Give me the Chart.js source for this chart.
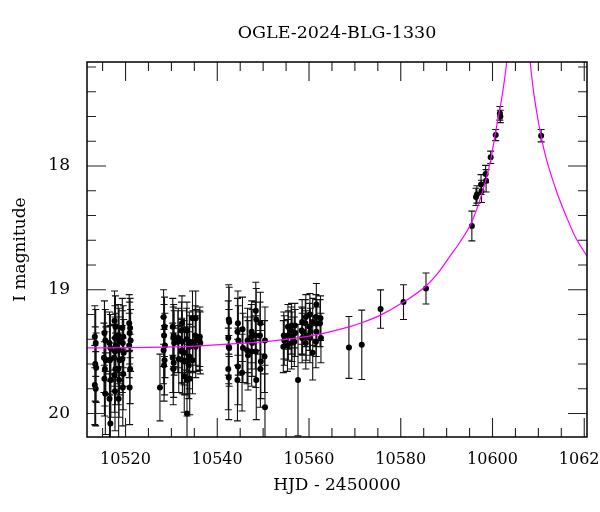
<!DOCTYPE html>
<html>
<head>
<meta charset="utf-8">
<title>OGLE-2024-BLG-1330</title>
<script src="https://cdn.jsdelivr.net/npm/chart.js@4.4.1/dist/chart.umd.min.js"></script>
<style>
  html, body { margin: 0; background: #fff; }
  #wrap { width: 600px; height: 512px; }
</style>
</head>
<body>
<div id="wrap"><canvas id="lc" width="600" height="512"></canvas></div>
<script>
"use strict";
const FONT = "'DejaVu Serif', 'Liberation Serif', serif";
const TITLE = "OGLE-2024-BLG-1330";

// photometry: HJD-2450000, I mag, 1-sigma error
const hjd = [
  10513.3, 10513.5, 10513.4, 10513.6, 10513.3, 10513.5,
  10515.4, 10515.6, 10515.3, 10515.7, 10515.5, 10515.4, 10515.6,
  10516.5, 10516.7, 10516.6, 10516.8, 10516.5, 10516.7,
  10517.6, 10517.8, 10517.7, 10517.9, 10517.7, 10517.5, 10517.8, 10517.6, 10517.7,
  10518.4, 10518.6, 10518.5, 10518.7, 10518.4, 10518.6, 10518.5,
  10519.3, 10519.5, 10519.4, 10519.6, 10519.3, 10519.5, 10519.4,
  10520.8, 10521.0, 10520.9, 10521.1, 10520.8, 10521.0, 10520.9,
  10527.5,
  10528.3, 10528.5, 10528.4, 10528.6, 10528.3, 10528.5, 10528.4,
  10530.3, 10530.5, 10530.4, 10530.6, 10530.3, 10530.5, 10530.4,
  10531.5, 10531.4, 10531.6,
  10532.3, 10532.2, 10532.4, 10532.3, 10532.2, 10532.4,
  10532.8, 10532.9, 10532.8,
  10533.4, 10533.3, 10533.5, 10533.4, 10533.4,
  10533.9, 10534.0, 10533.9, 10533.8, 10534.0,
  10534.6, 10534.7, 10534.6,
  10535.3, 10535.2, 10535.4, 10535.3,
  10536.2, 10536.1, 10536.3,
  10542.5, 10542.6, 10542.4, 10542.5, 10542.6, 10542.4, 10542.5,
  10544.5, 10544.4, 10544.6, 10544.5, 10544.4,
  10545.5, 10545.6, 10545.4,
  10546.6, 10546.5, 10546.7,
  10547.5, 10547.4, 10547.6, 10547.5,
  10548.4, 10548.5, 10548.3, 10548.4, 10548.5,
  10549.4, 10549.3, 10549.5, 10549.4,
  10550.4, 10550.3, 10550.4,
  10554.5, 10554.6, 10554.4,
  10555.4, 10555.5, 10555.3,
  10556.2, 10556.1, 10556.3, 10556.2,
  10556.9, 10557.0, 10556.8,
  10557.6,
  10558.5, 10558.4, 10558.6, 10558.5,
  10559.3, 10559.2, 10559.4, 10559.3,
  10560.2, 10560.1, 10560.3, 10560.2,
  10560.8, 10560.8,
  10561.6, 10561.5, 10561.7, 10561.6, 10561.5,
  10562.5, 10562.4, 10562.6,
  10568.7, 10571.5, 10575.6, 10580.6, 10585.5,
  10595.5, 10596.4, 10596.6, 10597.6, 10597.5, 10598.6, 10598.5,
  10599.6, 10600.7, 10601.6, 10601.7, 10610.6
];
const mag = [
  19.38, 19.43, 19.60, 19.63, 19.77, 19.80,
  19.35, 19.41, 19.55, 19.57, 19.64, 19.72, 19.84,
  19.43, 19.47, 19.57, 19.73, 19.88, 20.08,
  19.25, 19.30, 19.39, 19.45, 19.50, 19.55, 19.64, 19.69, 19.82,
  19.37, 19.41, 19.49, 19.57, 19.64, 19.73, 19.88,
  19.31, 19.38, 19.43, 19.51, 19.56, 19.68, 19.79,
  19.27, 19.31, 19.35, 19.41, 19.45, 19.64, 19.79,
  19.79,
  19.22, 19.30, 19.37, 19.45, 19.49, 19.57, 19.61,
  19.30, 19.37, 19.39, 19.43, 19.55, 19.59, 19.64,
  19.39, 19.42, 19.56,
  19.27, 19.33, 19.42, 19.49, 19.50, 19.57,
  19.51, 19.58, 19.70,
  19.33, 19.40, 19.57, 19.73, 20.00,
  19.42, 19.46, 19.54, 19.61, 19.72,
  19.23, 19.42, 19.57,
  19.23, 19.37, 19.41, 19.46,
  19.38, 19.41, 19.43,
  19.24, 19.26, 19.39, 19.46, 19.47, 19.64, 19.71,
  19.27, 19.34, 19.41, 19.62, 19.73,
  19.32, 19.47, 19.67,
  19.41, 19.49, 19.53,
  19.34, 19.38, 19.43, 19.50,
  19.17, 19.24, 19.37, 19.50, 19.73,
  19.27, 19.37, 19.58, 19.64,
  19.41, 19.54, 19.95,
  19.37, 19.41, 19.46,
  19.30, 19.37, 19.45,
  19.29, 19.33, 19.38, 19.43,
  19.29, 19.35, 19.42,
  19.73,
  19.26, 19.33, 19.34, 19.39,
  19.22, 19.27, 19.37, 19.43,
  19.20, 19.30, 19.34, 19.39,
  19.26, 19.51,
  19.12, 19.22, 19.27, 19.34, 19.42,
  19.23, 19.27, 19.39,
  19.466, 19.445, 19.156, 19.10, 18.99,
  18.485, 18.25, 18.23, 18.205, 18.15, 18.12, 18.065,
  17.93, 17.75, 17.575, 17.60, 17.755
];
const magErr = [
  0.25, 0.27, 0.30, 0.28, 0.32, 0.30,
  0.26, 0.25, 0.28, 0.27, 0.30, 0.30, 0.33,
  0.25, 0.27, 0.28, 0.30, 0.33, 0.35,
  0.24, 0.25, 0.26, 0.26, 0.28, 0.27, 0.29, 0.30, 0.32,
  0.25, 0.26, 0.27, 0.28, 0.29, 0.30, 0.32,
  0.24, 0.25, 0.26, 0.27, 0.27, 0.29, 0.31,
  0.23, 0.24, 0.25, 0.25, 0.26, 0.28, 0.30,
  0.27,
  0.22, 0.24, 0.25, 0.26, 0.27, 0.28, 0.29,
  0.23, 0.25, 0.25, 0.26, 0.28, 0.28, 0.29,
  0.24, 0.25, 0.27,
  0.22, 0.23, 0.25, 0.26, 0.26, 0.27,
  0.26, 0.27, 0.29,
  0.23, 0.25, 0.27, 0.29, 0.33,
  0.24, 0.25, 0.26, 0.27, 0.29,
  0.22, 0.25, 0.27,
  0.22, 0.24, 0.25, 0.25,
  0.24, 0.24, 0.25,
  0.28, 0.28, 0.30, 0.30, 0.31, 0.33, 0.34,
  0.26, 0.27, 0.28, 0.31, 0.33,
  0.26, 0.28, 0.31,
  0.26, 0.27, 0.28,
  0.25, 0.26, 0.27, 0.28,
  0.23, 0.25, 0.27, 0.29, 0.32,
  0.25, 0.27, 0.30, 0.31,
  0.27, 0.29, 0.34,
  0.19, 0.20, 0.21,
  0.18, 0.20, 0.21,
  0.18, 0.19, 0.20, 0.21,
  0.18, 0.19, 0.20,
  0.45,
  0.18, 0.19, 0.19, 0.20,
  0.18, 0.19, 0.20, 0.21,
  0.17, 0.19, 0.19, 0.20,
  0.19, 0.22,
  0.17, 0.18, 0.19, 0.20, 0.21,
  0.18, 0.19, 0.20,
  0.25, 0.28, 0.155, 0.14, 0.125,
  0.12, 0.07, 0.07, 0.09, 0.08, 0.09, 0.07,
  0.05, 0.045, 0.055, 0.05, 0.05
];

// magenta model curve, traced point by point
const modelHjd = [
  10511.6, 10525, 10535, 10545, 10553.6, 10560, 10564.5, 10568.7, 10571.5, 10575.6,
  10580.6, 10585.5, 10588, 10590.7, 10593, 10595.5, 10597.2, 10598.5, 10599.6, 10600.9,
  10602.3, 10603.1, 10604, 10605.6, 10607.2, 10608.2, 10608.9, 10609.7, 10610.6, 10611.5,
  10612.5, 10614, 10616, 10618, 10620.6
];
const modelMag = [
  19.47, 19.466, 19.455, 19.433, 19.407, 19.375, 19.34, 19.30, 19.267, 19.205,
  19.10, 18.97, 18.87, 18.73, 18.61, 18.45, 18.28, 18.12, 17.95, 17.68,
  17.385, 17.16, 16.85, 16.4, 16.85, 17.16, 17.385, 17.58, 17.76, 17.91,
  18.04, 18.21, 18.40, 18.57, 18.73
];

const xLabels = [10520, 10540, 10560, 10580, 10600, 10620];
const xMinor = [10515, 10525, 10530, 10535, 10545, 10550, 10555, 10565, 10570, 10575,
  10585, 10590, 10595, 10605, 10610, 10615];
const yLabels = [18, 19, 20];
const yMinor = [17.2, 17.4, 17.6, 17.8, 18.2, 18.4, 18.6, 18.8, 19.2, 19.4, 19.6, 19.8];

// error bars under the points
const errorBars = {
  id: "errorBars",
  beforeDatasetsDraw(chart) {
    const { ctx, chartArea: a, scales: { x, y } } = chart;
    ctx.save();
    ctx.beginPath();
    ctx.rect(a.left, a.top, a.right - a.left, a.bottom - a.top);
    ctx.clip();
    ctx.strokeStyle = "#111";
    ctx.lineWidth = 1.1;
    ctx.beginPath();
    hjd.forEach((t, i) => {
      const px = x.getPixelForValue(t);
      const y1 = y.getPixelForValue(mag[i] - magErr[i]);
      const y2 = y.getPixelForValue(mag[i] + magErr[i]);
      ctx.moveTo(px, y1); ctx.lineTo(px, y2);
      ctx.moveTo(px - 3.5, y1); ctx.lineTo(px + 3.5, y1);
      ctx.moveTo(px - 3.5, y2); ctx.lineTo(px + 3.5, y2);
    });
    ctx.stroke();
    ctx.restore();
  }
};

// boxed frame with inward ticks on all four sides
const frameTicks = {
  id: "frameTicks",
  afterDatasetsDraw(chart) {
    const { ctx, chartArea: a, scales: { x, y } } = chart;
    ctx.save();
    ctx.strokeStyle = "#222";
    ctx.lineWidth = 1.1;
    ctx.beginPath();
    const xt = (v, len) => {
      const p = x.getPixelForValue(v);
      ctx.moveTo(p, a.bottom); ctx.lineTo(p, a.bottom - len);
      ctx.moveTo(p, a.top); ctx.lineTo(p, a.top + len);
    };
    const yt = (v, len) => {
      const p = y.getPixelForValue(v);
      ctx.moveTo(a.left, p); ctx.lineTo(a.left + len, p);
      ctx.moveTo(a.right, p); ctx.lineTo(a.right - len, p);
    };
    xLabels.forEach(v => xt(v, 19));
    xMinor.forEach(v => xt(v, 9));
    yLabels.forEach(v => yt(v, 19));
    yMinor.forEach(v => yt(v, 9));
    ctx.stroke();
    ctx.strokeStyle = "#000";
    ctx.lineWidth = 1.5;
    ctx.strokeRect(a.left, a.top, a.right - a.left, a.bottom - a.top);
    ctx.restore();
  }
};

new Chart(document.getElementById("lc"), {
  data: {
    datasets: [
      {
        type: "line",
        data: modelHjd.map((t, i) => ({ x: t, y: modelMag[i] })),
        borderColor: "#ff00ff",
        borderWidth: 1.2,
        pointRadius: 0,
        cubicInterpolationMode: "monotone",
        order: 0
      },
      {
        type: "scatter",
        data: hjd.map((t, i) => ({ x: t, y: mag[i] })),
        backgroundColor: "#000",
        borderColor: "#000",
        pointRadius: 3,
        borderWidth: 0,
        order: 1
      }
    ]
  },
  options: {
    responsive: false,
    animation: false,
    devicePixelRatio: 1,
    layout: { padding: { left: 0, right: 13, top: 0, bottom: 0 } },
    plugins: {
      legend: { display: false },
      tooltip: { enabled: false },
      title: {
        display: true,
        text: TITLE,
        fullSize: false,
        color: "#000",
        font: { family: FONT, size: 17.5, weight: "normal" },
        padding: { top: 23, bottom: 18 }
      }
    },
    scales: {
      x: {
        type: "linear",
        min: 10511.6,
        max: 10620.6,
        afterBuildTicks: s => { s.ticks = xLabels.map(v => ({ value: v })); },
        afterFit: s => { s.height = 75; s.paddingLeft = 0; s.paddingRight = 0; },
        grid: { display: false },
        border: { display: false },
        ticks: {
          color: "#000", padding: 5, maxRotation: 0, autoSkip: false,
          font: { family: FONT, size: 16 },
          callback: v => String(v)
        },
        title: {
          display: true, text: "HJD - 2450000", color: "#000",
          font: { family: FONT, size: 17 },
          padding: { top: 0, bottom: 16 }
        }
      },
      y: {
        type: "linear",
        reverse: true,
        min: 17.16,
        max: 20.19,
        afterBuildTicks: s => { s.ticks = yLabels.map(v => ({ value: v })); },
        afterFit: s => { s.width = 87; s.paddingTop = 0; s.paddingBottom = 0; },
        grid: { display: false },
        border: { display: false },
        ticks: {
          color: "#000", padding: 9,
          font: { family: FONT, size: 17 },
          callback: v => String(v)
        },
        title: {
          display: true, text: "I magnitude", color: "#000",
          font: { family: FONT, size: 17 },
          padding: { top: 10, bottom: 0 }
        }
      }
    }
  },
  plugins: [errorBars, frameTicks]
});
</script>
</body>
</html>
